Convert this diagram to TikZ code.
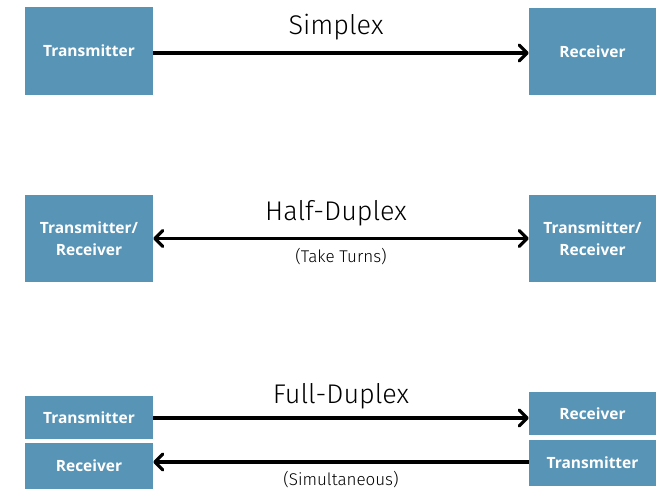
\documentclass[tikz,border=0pt]{standalone}
\usepackage{fontspec}
\setmainfont{Open Sans}
\newfontfamily\titlefont{Fira Sans Light}
\usetikzlibrary{arrows.meta}
\definecolor{boxblue}{RGB}{88,148,182}
\begin{document}
\begin{tikzpicture}[x=1pt,y=-1pt,
  box/.style={fill=boxblue,draw=none,inner sep=0pt,text=white,font=\bfseries\fontsize{15.5}{22}\selectfont,align=center},
  tip/.tip={Straight Barb[length=8pt,width=16pt,line width=3.2pt,round]},
  conn/.style={line width=3.8pt,-tip},
  conn2/.style={line width=3.8pt,tip-tip},
  title/.style={font=\titlefont\fontsize{27}{30}\selectfont},
  sub/.style={font=\titlefont\fontsize{17}{20}\selectfont}]
\useasboundingbox (0,0) rectangle (656,489);
% Simplex
\node[box,minimum width=128pt,minimum height=88pt] (t1) at (89,51) {Transmitter};
\node[box,minimum width=127pt,minimum height=87pt] (r1) at (592.5,51.5) {Receiver};
\coordinate (a0) at (153,53);
\coordinate (b0) at (529,53);
\draw[conn] (t1.east |- a0) -- (r1.west |- b0);
\node[title] (s1) at (336,27) {Simplex};
% Half duplex
\node[box,minimum width=128pt,minimum height=87pt] (t2) at (89,238.5) {Transmitter/\\Receiver};
\node[box,minimum width=127pt,minimum height=87pt] (r2) at (592.5,238.5) {Transmitter/\\Receiver};
\draw[conn2] (t2.east) -- (r2.west);
\node[title] (s2) at (336,213) {Half-Duplex};
\node[sub] (s2b) at (341,257) {(Take Turns)};
% Full duplex
\node[box,minimum width=128pt,minimum height=43pt] (t3) at (89,417.5) {Transmitter};
\node[box,minimum width=128pt,minimum height=46pt] (t4) at (89,466) {Receiver};
\node[box,minimum width=127pt,minimum height=43pt] (r3) at (592.5,413.5) {Receiver};
\node[box,minimum width=127pt,minimum height=46pt] (r4) at (592.5,463) {Transmitter};
\coordinate (a1) at (153,418);
\coordinate (b1) at (529,418);
\coordinate (a2) at (529,462);
\coordinate (b2) at (153,462);
\draw[conn] (t3.east |- a1) -- (r3.west |- b1);
\draw[conn] (r4.west |- a2) -- (t4.east |- b2);
\node[title] (s3) at (341,396) {Full-Duplex};
\node[sub] (s3b) at (341,480) {(Simultaneous)};
\end{tikzpicture}
\end{document}
